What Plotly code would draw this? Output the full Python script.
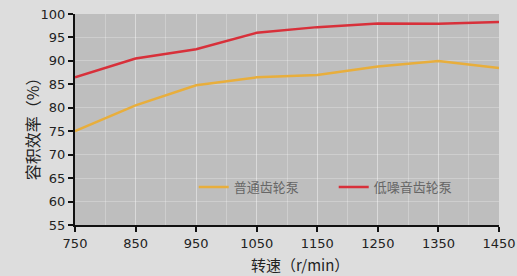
import plotly.graph_objects as go

speed = [750, 850, 950, 1050, 1150, 1250, 1350, 1450]
ordinary = [75.0, 80.5, 84.8, 86.5, 87.0, 88.8, 90.0, 88.5]
low_noise = [86.5, 90.5, 92.5, 96.0, 97.2, 98.0, 97.9, 98.3]
x_ticks = [750, 850, 950, 1050, 1150, 1250, 1350, 1450]
y_ticks = [55, 60, 65, 70, 75, 80, 85, 90, 95, 100]

cjk = "Noto Sans CJK SC, sans-serif"
tickfont = "DejaVu Sans, sans-serif"

fig = go.Figure()
fig.add_trace(go.Scatter(x=speed, y=ordinary, mode="lines", name="普通齿轮泵",
                         line=dict(color="#e8ae3c", width=2.5)))
fig.add_trace(go.Scatter(x=speed, y=low_noise, mode="lines", name="低噪音齿轮泵",
                         line=dict(color="#d8303a", width=2.5)))

fig.update_layout(
    width=517, height=276,
    margin=dict(l=75, r=18, t=14, b=51, autoexpand=False),
    paper_bgcolor="#dddddd",
    plot_bgcolor="#bebebe",
    font=dict(family=cjk, size=13, color="#222222"),
    showlegend=True,
    legend=dict(orientation="h", x=0.28, y=0.18, xanchor="left", yanchor="middle",
                bgcolor="rgba(0,0,0,0)", font=dict(family=cjk, size=13, color="#666666"),
                entrywidth=95, entrywidthmode="pixels"),
    xaxis=dict(range=[750, 1450], tickvals=x_ticks, ticktext=[str(v) for v in x_ticks],
               showline=True, linecolor="#111111", linewidth=2,
               ticks="outside", ticklen=5, tickwidth=2, tickcolor="#111111",
               showgrid=True, gridcolor="rgba(255,255,255,0.25)", gridwidth=1,
               minor=dict(dtick=50, showgrid=True, gridcolor="rgba(255,255,255,0.25)"),
               zeroline=False, automargin=False,
               tickfont=dict(family=tickfont, size=13, color="#222222")),
    yaxis=dict(range=[55, 100], tickvals=y_ticks, ticktext=[str(v) for v in y_ticks],
               showline=True, linecolor="#111111", linewidth=2,
               ticks="outside", ticklen=5, tickwidth=2, tickcolor="#111111",
               showgrid=True, gridcolor="rgba(255,255,255,0.25)", gridwidth=1,
               zeroline=False, automargin=False,
               tickfont=dict(family=tickfont, size=13, color="#222222")),
    annotations=[
        dict(text="转速（r/min）", xref="paper", yref="paper", x=0.53, y=-0.185,
             xanchor="center", yanchor="middle", showarrow=False,
             font=dict(family=cjk, size=15, color="#222222")),
        dict(text="容积效率（%）", xref="paper", yref="paper", x=-0.101, y=0.474,
             xanchor="center", yanchor="middle", showarrow=False, textangle=-90,
             font=dict(family=cjk, size=16, color="#222222")),
    ],
)

fig.write_html("out.html", config={"displayModeBar": False},
               post_script="document.body.style.margin='0';document.body.style.overflow='hidden';")
